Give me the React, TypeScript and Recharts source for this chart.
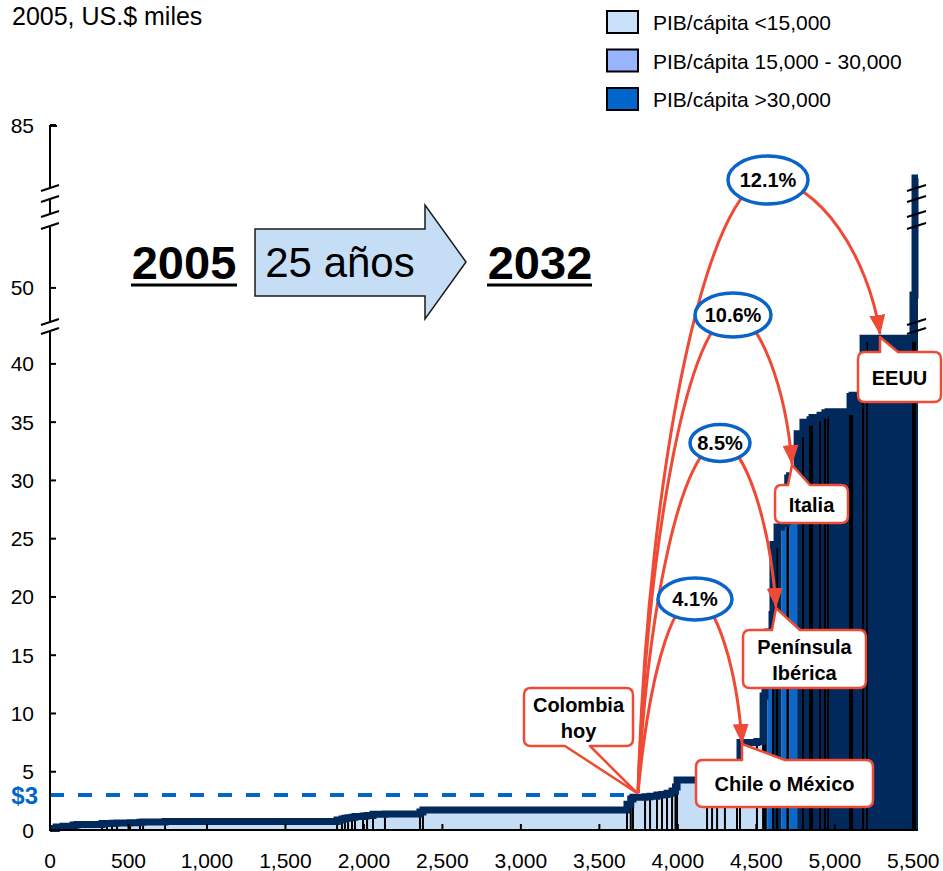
import React from "react";
import { ComposedChart, Area, Line, XAxis, YAxis, ReferenceLine } from "recharts";

// cumulative population (millions) where each country block starts, sorted by GDP per capita
const popStart = [
  0, 40, 83, 147, 172, 331, 363, 395, 427, 510, 573, 593, 733, 1829, 1860, 1879, 1899, 1924, 1943, 1994,
  2020, 2058, 2134, 2357, 2376, 3676, 3700, 3714, 3791, 3823, 3867, 3899, 3931, 3963, 3985, 3995, 4186,
  4218, 4250, 4300, 4377, 4396, 4504, 4543, 4555, 4570, 4600, 4606, 4632, 4660, 4690, 4700, 4712, 4760,
  4797, 4842, 4855, 4906, 4937, 4957, 5097, 5110, 5180, 5205, 5498, 5511,
];
// GDP per capita of each block, thousands of 2005 US$
const gdpPerCap = [
  0.12, 0.25, 0.32, 0.42, 0.48, 0.55, 0.56, 0.58, 0.6, 0.62, 0.66, 0.68, 0.72, 0.85, 0.95, 1.0, 1.05, 1.1,
  1.15, 1.2, 1.25, 1.35, 1.38, 1.55, 1.72, 2.2, 2.65, 2.8, 2.85, 2.9, 3.0, 3.05, 3.15, 3.35, 3.7, 4.3, 4.3,
  4.32, 4.35, 4.38, 4.4, 7.5, 7.6, 11.5, 13, 17, 18.5, 24.5, 26, 26.3, 26.5, 30.2, 30.4, 34, 35, 35.2, 35.4,
  35.6, 35.8, 35.9, 37.2, 37.3, 42.2, 42.2, 48.8, 73.6,
];
// fill of each block: L light, B bright blue, N navy
const band = ("L".repeat(43) + "NNBNNNBNNB" + "N".repeat(13)).split("");
const popEnd = 5530;

const xTicks = [0, 500, 1000, 1500, 2000, 2500, 3000, 3500, 4000, 4500, 5000, 5500];
const yTickLabels = [0, 5, 10, 15, 20, 25, 30, 35, 40, 50, 85];
const colombia = { pop: 3700, gdp: 3 };

const legendItems = [
  { label: "PIB/cápita <15,000", color: "#C9E1F9" },
  { label: "PIB/cápita 15,000 - 30,000", color: "#99B4FF" },
  { label: "PIB/cápita >30,000", color: "#0066CC" },
];

const FONT = "'Liberation Sans', Arial, Helvetica, sans-serif";
const RED = "#EF4A36";
const NAVY = "#01295B";
const LIGHT = "#C6DDF6";
const BRIGHT = "#0A67CB";

// broken y axis: 0-43 linear, then compressed 43-50 and 50-85
function toDisplay(v: number) {
  if (v <= 43) return v;
  if (v <= 50) return 43 + ((v - 43) * 3.52) / 7;
  return 46.52 + ((v - 50) * 13.98) / 35;
}

const rows = popStart.map((x, i) => {
  const d = toDisplay(gdpPerCap[i]);
  return {
    x,
    light: band[i] === "L" ? d : 0,
    bright: band[i] === "B" ? d : 0,
    navy: band[i] === "N" ? d : 0,
    top: d,
  };
});
rows.push({ ...rows[rows.length - 1], x: popEnd });

const separators = popStart.slice(1).map((x, i) => ({
  x,
  h: toDisplay(Math.min(gdpPerCap[i], gdpPerCap[i + 1])) - 0.25,
  skip: band[i] === "B" || band[i + 1] === "B",
})).filter((s) => s.h > 0 && !s.skip);

const yTicks = yTickLabels.map(toDisplay);

const XTick = (props: any) => {
  const { x, y, payload } = props;
  return (
    <g>
      <line x1={x} x2={x} y1={y} y2={y - 6} stroke="#000" strokeWidth={2} />
      <text x={x} y={y + 38} textAnchor="middle" fontSize={21} fontFamily={FONT} fill="#000">
        {Number(payload.value).toLocaleString("en-US")}
      </text>
    </g>
  );
};

const YTick = (props: any) => {
  const { x, y, payload } = props;
  const label = yTickLabels.find((l) => Math.abs(toDisplay(l) - payload.value) < 1e-6);
  return (
    <g>
      <line x1={x} x2={x + 6} y1={y} y2={y} stroke="#000" strokeWidth={2} />
      <text x={x - 16} y={y + 7.5} textAnchor="end" fontSize={21} fontFamily={FONT} fill="#000">
        {label}
      </text>
    </g>
  );
};

function calloutPath(x: number, y: number, w: number, h: number, edge: string, b1: number, b2: number, tx: number, ty: number) {
  const r = 7;
  let d = `M${x + r},${y}`;
  if (edge === "top") d += ` L${b1},${y} L${tx},${ty} L${b2},${y}`;
  d += ` L${x + w - r},${y} Q${x + w},${y} ${x + w},${y + r} L${x + w},${y + h - r} Q${x + w},${y + h} ${x + w - r},${y + h}`;
  if (edge === "bottom") d += ` L${b2},${y + h} L${tx},${ty} L${b1},${y + h}`;
  d += ` L${x + r},${y + h} Q${x},${y + h} ${x},${y + h - r} L${x},${y + r} Q${x},${y} ${x + r},${y} Z`;
  return d;
}

function arcPath(s: number[], p: number[], e: number[]) {
  const dx1 = p[0] - s[0], dy1 = s[1] - p[1];
  const dx2 = e[0] - p[0], dy2 = e[1] - p[1];
  return `M${s[0]},${s[1]} C${s[0] + 10},${s[1] - 0.55 * dy1} ${p[0] - 0.45 * dx1},${p[1]} ${p[0]},${p[1]}` +
    ` C${p[0] + 0.45 * dx2},${p[1]} ${e[0] - 0.1 * dx2},${e[1] - 0.5 * dy2} ${e[0]},${e[1]}`;
}

const start = [638, 793];
const growth = [
  { label: "12.1%", c: [768, 180], rx: 40, ry: 24, end: [880, 334] },
  { label: "10.6%", c: [733, 315], rx: 38, ry: 22, end: [792, 464] },
  { label: "8.5%", c: [720, 443], rx: 30, ry: 18.5, end: [776, 607] },
  { label: "4.1%", c: [695, 599], rx: 37, ry: 21, end: [742, 743] },
];

const callouts = [
  { lines: ["Colombia", "hoy"], x: 524, y: 688, w: 109, h: 58, edge: "bottom", b1: 565, b2: 590, t: [637, 793] },
  { lines: ["EEUU"], x: 858, y: 352, w: 83, h: 50, edge: "top", b1: 880, b2: 898, t: [880, 337] },
  { lines: ["Italia"], x: 775, y: 485, w: 73, h: 38, edge: "top", b1: 788, b2: 810, t: [792, 465] },
  { lines: ["Península", "Ibérica"], x: 743, y: 630, w: 123, h: 58, edge: "top", b1: 772, b2: 800, t: [776, 608] },
  { lines: ["Chile o México"], x: 696, y: 760, w: 177, h: 47, edge: "top", b1: 742, b2: 785, t: [742, 744] },
];

const breakYs = [188, 199, 214, 226, 322, 331];

export default function App() {
  return (
    <div style={{ position: "relative", width: 943, height: 871, background: "#fff" }}>
      <style>{"body{margin:0}"}</style>
      <ComposedChart width={943} height={871} data={rows} margin={{ top: 125, right: 25, bottom: 0, left: 0 }}>
        <XAxis
          dataKey="x"
          type="number"
          domain={[0, popEnd]}
          ticks={xTicks}
          interval={0}
          height={41}
          axisLine={{ stroke: "#000", strokeWidth: 2 }}
          tickLine={false}
          tickSize={0}
          tickMargin={0}
          tick={<XTick />}
        />
        <YAxis
          type="number"
          domain={[0, toDisplay(85)]}
          ticks={yTicks}
          interval={0}
          width={50}
          axisLine={false}
          tickLine={false}
          tickSize={0}
          tickMargin={0}
          tick={<YTick />}
        />
        <Area type="stepAfter" dataKey="light" fill={LIGHT} fillOpacity={1} stroke="none" isAnimationActive={false} activeDot={false} />
        <Area type="stepAfter" dataKey="bright" fill={BRIGHT} fillOpacity={1} stroke="none" isAnimationActive={false} activeDot={false} />
        <Area type="stepAfter" dataKey="navy" fill={NAVY} fillOpacity={1} stroke="none" isAnimationActive={false} activeDot={false} />
        {separators.map((s) => (
          <ReferenceLine key={s.x} segment={[{ x: s.x, y: 0 }, { x: s.x, y: s.h }]} stroke="#000" strokeWidth={2} />
        ))}
        <ReferenceLine
          segment={[{ x: 0, y: toDisplay(colombia.gdp) }, { x: colombia.pop, y: toDisplay(colombia.gdp) }]}
          stroke="#0066CC"
          strokeWidth={4}
          strokeDasharray="14 14"
        />
        <Line type="stepAfter" dataKey="top" stroke={NAVY} strokeWidth={7} dot={false} activeDot={false} isAnimationActive={false} />
      </ComposedChart>

      <svg width={943} height={871} fontFamily={FONT} style={{ position: "absolute", left: 0, top: 0, pointerEvents: "none" }}>
        <defs>
          <marker id="rh" viewBox="0 0 20 16" refX="19" refY="8" markerWidth="20" markerHeight="16" markerUnits="userSpaceOnUse" orient="auto">
            <path d="M0,0 L20,8 L0,16 Z" fill={RED} />
          </marker>
        </defs>

        {/* broken y axis */}
        <g stroke="#000" strokeWidth={2}>
          <line x1={50} x2={50} y1={125} y2={188} />
          <line x1={50} x2={50} y1={199} y2={214} />
          <line x1={50} x2={50} y1={226} y2={322} />
          <line x1={50} x2={50} y1={331} y2={831} />
          <line x1={50} x2={57} y1={126} y2={126} />
          {breakYs.map((y) => (
            <line key={"a" + y} x1={41} x2={59} y1={y + 3} y2={y - 3} />
          ))}
          {breakYs.map((y) => (
            <line key={"s" + y} x1={907} x2={926} y1={y + 3} y2={y - 3} />
          ))}
        </g>

        <text x={38} y={804} textAnchor="end" fontSize={24} fontWeight="bold" fill="#0066CC">$3</text>

        <text x={12} y={25} fontSize={25} fill="#000">2005, US.$ miles</text>

        {legendItems.map((it, i) => (
          <g key={it.label}>
            <rect x={607} y={11 + i * 38.5} width={31} height={22} fill={it.color} stroke="#000" strokeWidth={2} />
            <text x={653} y={30 + i * 38.5} fontSize={21} fill="#000">{it.label}</text>
          </g>
        ))}

        <text x={184} y={279} textAnchor="middle" fontSize={47} fontWeight="bold" fill="#000">2005</text>
        <line x1={131} x2={237} y1={285} y2={285} stroke="#000" strokeWidth={3} />
        <polygon points="255,229 425,229 425,205 466,262 425,319 425,296 255,296" fill={LIGHT} stroke="#1a1a1a" strokeWidth={1.5} />
        <text x={340} y={277} textAnchor="middle" fontSize={42} fill="#000">25 años</text>
        <text x={540} y={279} textAnchor="middle" fontSize={47} fontWeight="bold" fill="#000">2032</text>
        <line x1={487} x2={592} y1={285} y2={285} stroke="#000" strokeWidth={3} />

        {callouts.map((c) => (
          <g key={c.lines[0]}>
            <path d={calloutPath(c.x, c.y, c.w, c.h, c.edge, c.b1, c.b2, c.t[0], c.t[1])} fill="#fff" stroke={RED} strokeWidth={2.5} strokeLinejoin="round" />
            {c.lines.map((l, j) => (
              <text
                key={l}
                x={c.x + c.w / 2}
                y={c.y + c.h / 2 + 7.5 + (j - (c.lines.length - 1) / 2) * 26}
                textAnchor="middle"
                fontSize={20}
                fontWeight="bold"
                fill="#000"
              >
                {l}
              </text>
            ))}
          </g>
        ))}

        {growth.map((g) => (
          <path key={"p" + g.label} d={arcPath(start, g.c, g.end)} fill="none" stroke={RED} strokeWidth={3} markerEnd="url(#rh)" />
        ))}
        {growth.map((g) => (
          <g key={"e" + g.label}>
            <ellipse cx={g.c[0]} cy={g.c[1]} rx={g.rx} ry={g.ry} fill="#fff" stroke="#0A64C8" strokeWidth={3.5} />
            <text x={g.c[0]} y={g.c[1] + 7} textAnchor="middle" fontSize={20} fontWeight="bold" fill="#000">{g.label}</text>
          </g>
        ))}
      </svg>
    </div>
  );
}
